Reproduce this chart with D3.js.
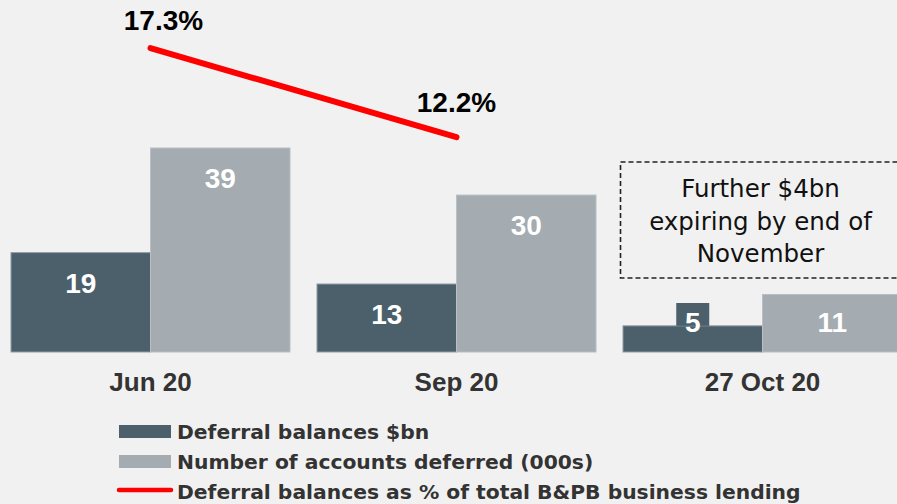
<!DOCTYPE html>
<html>
<head>
<meta charset="utf-8">
<script src="https://cdn.jsdelivr.net/npm/d3@7"></script>
<style>
  html, body { margin: 0; padding: 0; background: #f1f1f1; }
  svg { display: block; }
</style>
</head>
<body>
<svg id="chart" width="897" height="504"></svg>
<script>
var categories = ["Jun 20", "Sep 20", "27 Oct 20"];
var balances = [19, 13, 5];
var accounts = [39, 30, 11];
var pctCategories = ["Jun 20", "Sep 20"];
var pctValues = [17.3, 12.2];
var noteLines = ["Further $4bn", "expiring by end of", "November"];
var legendLabels = ["Deferral balances $bn", "Number of accounts deferred (000s)", "Deferral balances as % of total B&PB business lending"];

var darkColor = "#4b606b",
    lightColor = "#a4abb1",
    redColor = "#ff0000";

var svg = d3.select("#chart"),
    baseline = 352;

var x = d3.scaleBand()
    .domain(categories)
    .range([-2.5, 915.5])
    .paddingInner(27 / 306)
    .paddingOuter(27 / 306 / 2);

var sub = d3.scaleBand()
    .domain(["bal", "acc"])
    .range([0, x.bandwidth()]);

var y = d3.scaleLinear()
    .domain([0, 39])
    .range([baseline, 148]);

var yPct = d3.scaleLinear()
    .domain([0, 20])
    .range([350, 1]);

var series = [
  {key: "bal", values: balances, color: darkColor, stroke: "#8f9ca4"},
  {key: "acc", values: accounts, color: lightColor, stroke: "#b9bfc3"}
];

// bars
series.forEach(function(s) {
  var g = svg.append("g");
  g.selectAll("rect")
    .data(s.values)
    .enter().append("rect")
      .attr("x", function(d, i) { return x(categories[i]) + sub(s.key); })
      .attr("y", function(d) { return y(d); })
      .attr("width", sub.bandwidth())
      .attr("height", function(d) { return baseline - y(d); })
      .attr("fill", s.color)
      .attr("stroke", s.stroke)
      .attr("stroke-width", 1);
});

// value labels (with a backing box when the bar is too short)
series.forEach(function(s) {
  s.values.forEach(function(d, i) {
    var cx = x(categories[i]) + sub(s.key) + sub.bandwidth() / 2,
        ty = Math.min(y(d) + 40, baseline - 20);
    if (ty - 28 < y(d)) {
      svg.append("rect")
        .attr("x", cx - 16.5)
        .attr("y", ty - 29)
        .attr("width", 33)
        .attr("height", y(d) - (ty - 29))
        .attr("fill", s.color);
    }
    svg.append("text")
      .attr("x", cx)
      .attr("y", ty)
      .attr("text-anchor", "middle")
      .attr("fill", "#fff")
      .attr("font-family", "Liberation Sans, Arial, sans-serif")
      .attr("font-weight", "bold")
      .attr("font-size", 28)
      .text(d);
  });
});

// category labels
svg.append("g")
    .attr("transform", "translate(0," + baseline + ")")
    .call(d3.axisBottom(x).tickSize(0).tickPadding(21))
    .call(function(g) { g.select(".domain").remove(); })
    .selectAll("text")
      .attr("fill", "#333")
      .attr("font-family", "Liberation Sans, Arial, sans-serif")
      .attr("font-weight", "bold")
      .attr("font-size", 26)
      .attr("dy", "0.71em");

// percentage line
var line = d3.line()
    .x(function(d, i) { return x(pctCategories[i]) + x.bandwidth() / 2; })
    .y(function(d) { return yPct(d); });

svg.append("path")
    .datum(pctValues)
    .attr("fill", "none")
    .attr("stroke", redColor)
    .attr("stroke-width", 6)
    .attr("stroke-linecap", "round")
    .attr("d", line);

svg.selectAll(".pct")
  .data(pctValues)
  .enter().append("text")
    .attr("class", "pct")
    .attr("x", function(d, i) { return x(pctCategories[i]) + x.bandwidth() / 2 + (i === 0 ? 13 : 0); })
    .attr("y", function(d, i) { return yPct(d) - (i === 0 ? 18 : 25); })
    .attr("text-anchor", "middle")
    .attr("fill", "#000")
    .attr("font-family", "Liberation Sans, Arial, sans-serif")
    .attr("font-weight", "bold")
    .attr("font-size", 28)
    .text(function(d) { return d.toFixed(1) + "%"; });

// dashed note box
var noteX = x("27 Oct 20") + x.bandwidth() / 2;
svg.append("rect")
    .attr("x", 620.5)
    .attr("y", 162)
    .attr("width", 300)
    .attr("height", 116)
    .attr("fill", "none")
    .attr("stroke", "#222")
    .attr("stroke-width", 1.6)
    .attr("stroke-dasharray", "5,3");

svg.selectAll(".note")
  .data(noteLines)
  .enter().append("text")
    .attr("class", "note")
    .attr("x", noteX - 2)
    .attr("y", function(d, i) { return 197 + i * 32.5; })
    .attr("text-anchor", "middle")
    .attr("fill", "#111")
    .attr("font-family", "DejaVu Sans, Noto Sans, sans-serif")
    .attr("font-size", 24.5)
    .text(function(d) { return d; });

// legend
var legend = svg.append("g")
    .attr("transform", "translate(119,0)");

legendLabels.forEach(function(label, i) {
  var ly = 439 + i * 30;
  if (i < 2) {
    legend.append("rect")
      .attr("x", 0)
      .attr("y", ly - 14)
      .attr("width", 52)
      .attr("height", 13)
      .attr("fill", i === 0 ? darkColor : lightColor);
  } else {
    legend.append("line")
      .attr("x1", 0)
      .attr("x2", 52)
      .attr("y1", ly - 9)
      .attr("y2", ly - 9)
      .attr("stroke", redColor)
      .attr("stroke-width", 4.5)
      .attr("stroke-linecap", "round");
  }
  legend.append("text")
    .attr("x", 58)
    .attr("y", ly)
    .attr("fill", "#333")
    .attr("font-family", "DejaVu Sans, Noto Sans, sans-serif")
    .attr("font-weight", "bold")
    .attr("font-size", 20.3)
    .text(label);
});
</script>
</body>
</html>
